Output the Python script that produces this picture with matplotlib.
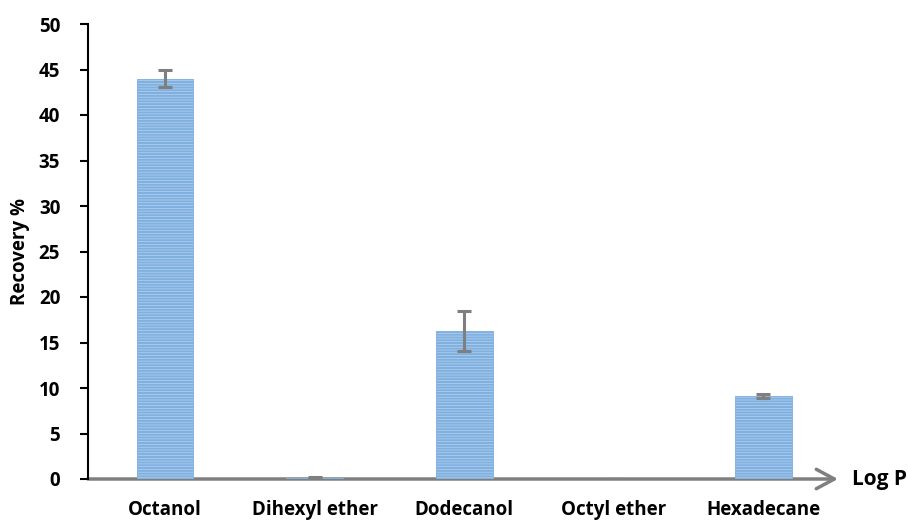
import matplotlib.pyplot as plt
import matplotlib as mpl

# Data
solvents = ['Octanol', 'Dihexyl ether', 'Dodecanol', 'Octyl ether', 'Hexadecane']
recovery = [44.0, 0.1, 16.3, 0.0, 9.1]
recovery_err = [0.9, 0.1, 2.2, 0.0, 0.2]
y_ticks = [0, 5, 10, 15, 20, 25, 30, 35, 40, 45, 50]

plt.rcParams['font.family'] = ['Open Sans', 'DejaVu Sans']
plt.rcParams['font.weight'] = 'bold'
mpl.rcParams['hatch.linewidth'] = 1.5
mpl.rcParams['hatch.color'] = '#5b9bd5'

fig = plt.figure(figsize=(9.08, 5.21), dpi=100)
ax = fig.add_axes([88 / 908, 42 / 521, (838 - 88) / 908, (479 - 24) / 521])

x = list(range(len(solvents)))
ax.bar(x, recovery, width=0.38, color='#b7d3ee', edgecolor='#7fb0e0',
       hatch='------', linewidth=0.6, zorder=2)
ax.errorbar(x, recovery, yerr=recovery_err, fmt='none', ecolor='#7f7f7f',
            elinewidth=2.2, capsize=5, capthick=2.2, zorder=3)

ax.set_xlim(-0.515, 4.5)
ax.set_ylim(0, 50)
ax.set_yticks(y_ticks)
ax.set_xticks(x)
ax.set_xticklabels(solvents)
ax.tick_params(axis='x', length=0, pad=15, labelsize=13.5)
ax.tick_params(axis='y', length=6, width=1.5, pad=14, labelsize=13.5)

for side in ['top', 'right', 'bottom']:
    ax.spines[side].set_visible(False)
ax.spines['left'].set_linewidth(1.5)

# x axis drawn as a grey arrow
ax.annotate('', xy=(1.0, 0), xytext=(0, 0), xycoords='axes fraction',
            arrowprops=dict(arrowstyle='->,head_length=1.3,head_width=0.7',
                            color='#7f7f7f', lw=2.5, shrinkA=0, shrinkB=0),
            zorder=1, annotation_clip=False)
ax.text(1.018, 0, 'Log P', transform=ax.transAxes, ha='left', va='center',
        fontsize=15, fontweight='bold')

ax.set_ylabel('Recovery %', fontsize=13.5, fontweight='bold', labelpad=6)

fig.savefig('out.png', dpi=100)
